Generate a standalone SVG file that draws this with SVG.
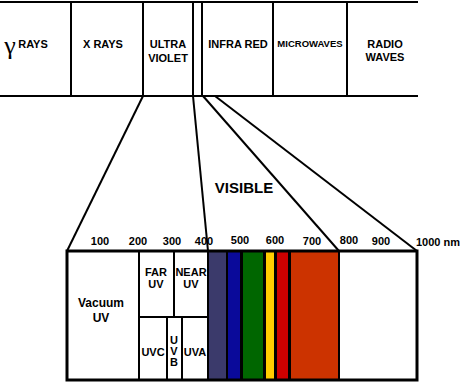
<svg xmlns="http://www.w3.org/2000/svg" width="473" height="383" viewBox="0 0 473 383">
<style>
text{font-family:"Liberation Sans",Arial,sans-serif;font-weight:bold;font-size:11px;fill:#000;text-anchor:middle}
.ln{stroke:#000;stroke-width:2;fill:none}
.bx{stroke:#000;stroke-width:3;fill:none}
</style>
<rect width="473" height="383" fill="#fff"/>
<g id="band">
<line class="ln" x1="0" y1="2" x2="418" y2="2"/>
<line class="ln" x1="0" y1="96" x2="418" y2="96"/>
<line class="ln" x1="71" y1="2" x2="71" y2="96"/>
<line class="ln" x1="143" y1="2" x2="143" y2="96"/>
<line class="ln" x1="193" y1="2" x2="193" y2="96"/>
<line class="ln" x1="202" y1="2" x2="202" y2="96"/>
<line class="ln" x1="273" y1="2" x2="273" y2="96"/>
<line class="ln" x1="347" y1="2" x2="347" y2="96"/>
</g>
<g id="gamma"><text x="10" y="54" style="font-family:'Liberation Serif',serif;font-weight:normal;font-size:26px">γ</text><text x="33" y="48">RAYS</text></g>
<g id="xrays"><text x="103" y="48">X RAYS</text></g>
<g id="uv"><text x="168" y="48">ULTRA</text><text x="168" y="62">VIOLET</text></g>
<g id="ir"><text x="238" y="48">INFRA RED</text></g>
<g id="mw"><text x="310" y="47" style="font-size:9.5px">MICROWAVES</text></g>
<g id="radio"><text x="385" y="48">RADIO</text><text x="385" y="61">WAVES</text></g>
<g id="connectors">
<line class="ln" x1="143" y1="96" x2="67" y2="251"/>
<line class="ln" x1="193" y1="96" x2="208" y2="251"/>
<line class="ln" x1="203" y1="96" x2="339" y2="251"/>
<line class="ln" x1="215" y1="96" x2="417" y2="251"/>
</g>
<g id="visible-label"><text x="244" y="193" style="font-size:15px">VISIBLE</text></g>
<g id="scale">
<text x="100" y="245">100</text>
<text x="138" y="245">200</text>
<text x="172" y="245">300</text>
<text x="204" y="245">400</text>
<text x="240" y="244">500</text>
<text x="275" y="244">600</text>
<text x="312" y="245">700</text>
<text x="349" y="244">800</text>
<text x="381" y="245">900</text>
<text x="438" y="246">1000 nm</text>
</g>
<g id="colors">
<rect x="209" y="251" width="17" height="128" fill="#3b3a6b"/>
<rect x="228" y="251" width="12" height="128" fill="#0a0a9a"/>
<rect x="243" y="251" width="20" height="128" fill="#006600"/>
<rect x="266" y="251" width="8" height="128" fill="#ffcc00"/>
<rect x="277" y="251" width="11" height="128" fill="#cc0000"/>
<rect x="291" y="251" width="47" height="128" fill="#cc3300"/>
<rect x="207" y="251" width="2" height="128" fill="#000"/>
<rect x="226" y="251" width="2" height="128" fill="#000"/>
<rect x="240" y="251" width="3" height="128" fill="#000"/>
<rect x="263" y="251" width="3" height="128" fill="#000"/>
<rect x="274" y="251" width="3" height="128" fill="#000"/>
<rect x="288" y="251" width="3" height="128" fill="#000"/>
<rect x="338" y="251" width="2" height="128" fill="#000"/>
</g>
<g id="box">
<rect class="bx" x="67" y="251" width="350" height="129"/>
<line class="ln" x1="139" y1="251" x2="139" y2="380"/>
<line class="ln" x1="174" y1="251" x2="174" y2="317"/>
<line class="ln" x1="139" y1="317" x2="207" y2="317"/>
<line class="ln" x1="167" y1="317" x2="167" y2="380"/>
<line class="ln" x1="182" y1="317" x2="182" y2="380"/>
</g>
<g id="vacuum"><text x="101" y="307" style="font-size:12px">Vacuum</text><text x="101" y="322" style="font-size:12px">UV</text></g>
<g id="far"><text x="156" y="276">FAR</text><text x="156" y="288">UV</text></g>
<g id="near"><text x="191" y="276">NEAR</text><text x="191" y="288">UV</text></g>
<g id="uvc"><text x="153" y="356">UVC</text></g>
<g id="uvb"><text x="174" y="344">U</text><text x="174" y="355">V</text><text x="174" y="366">B</text></g>
<g id="uva"><text x="195" y="356">UVA</text></g>
</svg>
